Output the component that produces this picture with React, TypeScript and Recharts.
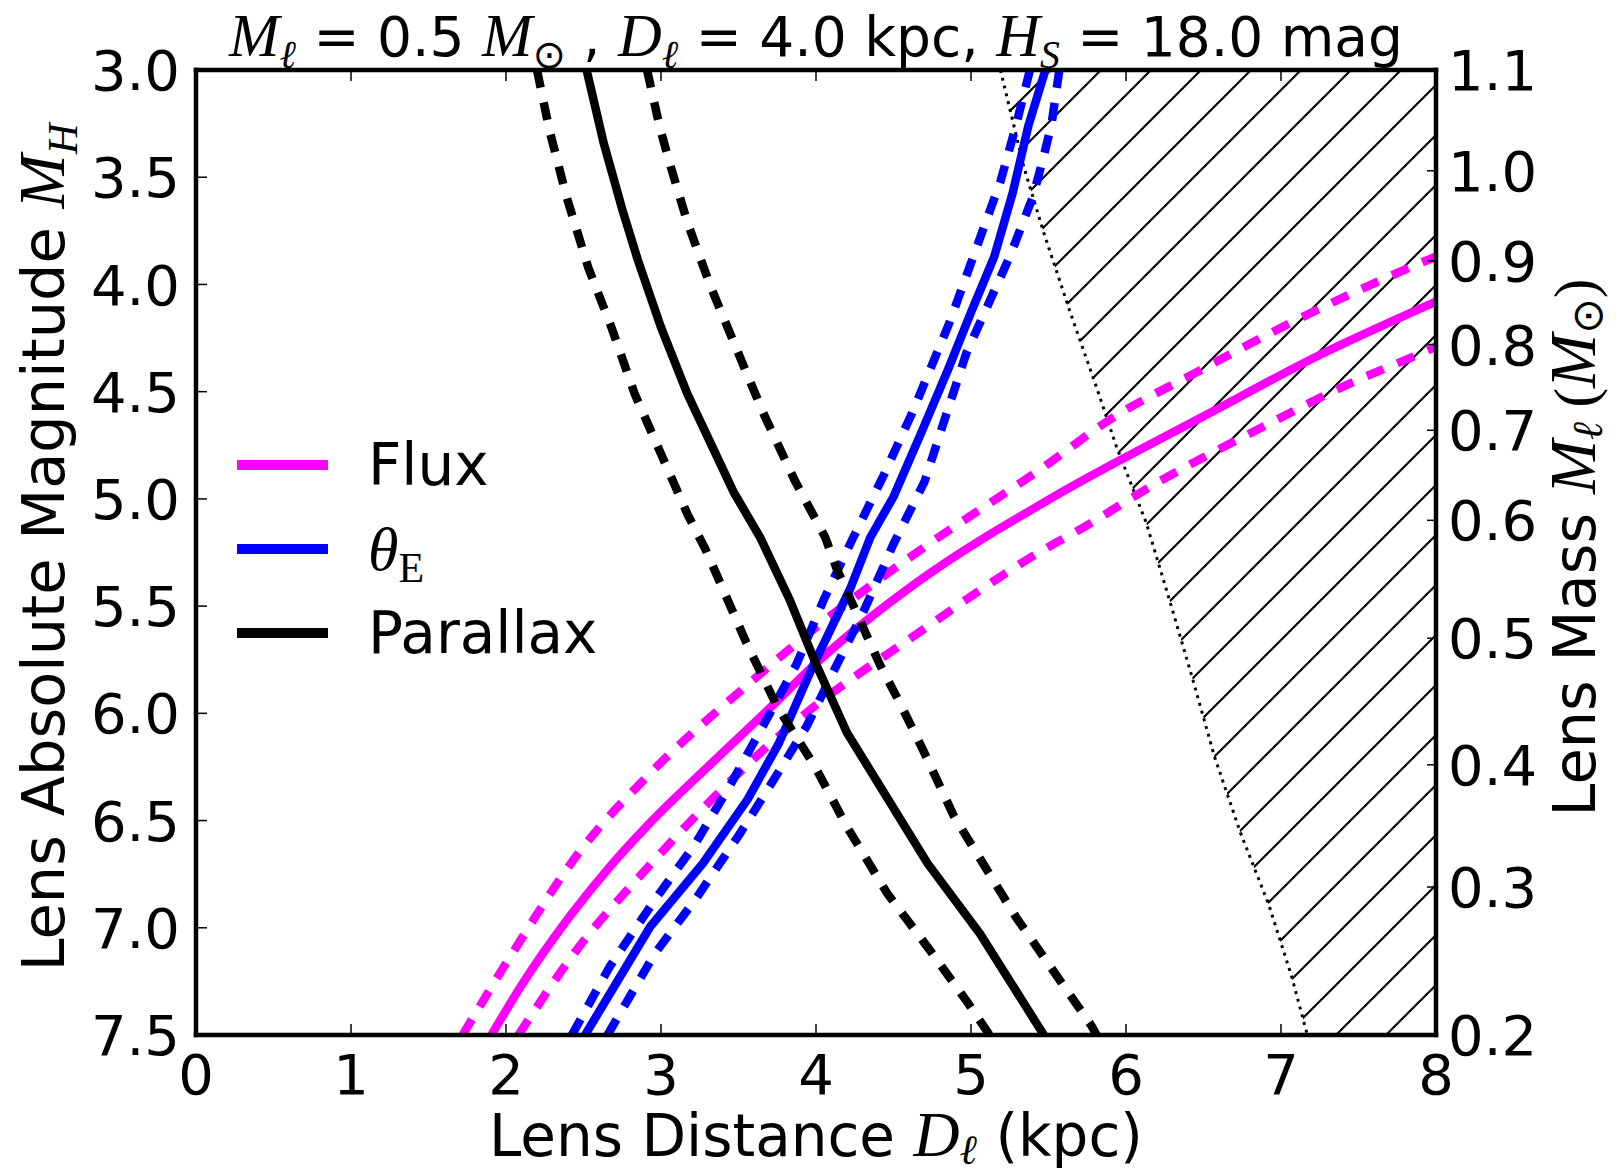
import React from "react";
import { ComposedChart, Line, Area, XAxis, YAxis, Legend } from "recharts";

// [lens distance (kpc), lens absolute magnitude M_H]
type Pt = [number, number];

const distTicks = [0, 1, 2, 3, 4, 5, 6, 7, 8];
const magTicks = [3.0, 3.5, 4.0, 4.5, 5.0, 5.5, 6.0, 6.5, 7.0, 7.5];
// right axis: lens mass ticks placed at the matching M_H
const massTickMags = [3.0, 3.47, 3.89, 4.28, 4.68, 5.1, 5.65, 6.24, 6.81, 7.5];
const massTickLabels = ["1.1", "1.0", "0.9", "0.8", "0.7", "0.6", "0.5", "0.4", "0.3", "0.2"];

const fluxMid: Pt[] = [
  [1.906, 7.5], [2.094, 7.275], [2.41, 6.948], [2.67, 6.715], [2.93, 6.51], [3.33, 6.23],
  [3.71, 5.97], [3.98, 5.78], [4.65, 5.39], [5.51, 5.0], [6.54, 4.6], [7.23, 4.336], [8.0, 4.08],
];
const fluxBright: Pt[] = [
  [1.72, 7.5], [2.04, 7.12], [2.47, 6.65], [2.93, 6.28], [3.57, 5.86], [4.05, 5.57], [4.65, 5.25],
  [5.51, 4.83], [5.875, 4.64], [6.48, 4.4], [7.06, 4.18], [7.9, 3.9], [8.0, 3.87],
];
const fluxFaint: Pt[] = [
  [2.08, 7.5], [2.47, 7.09], [2.9, 6.73], [3.33, 6.4], [3.85, 6.05], [4.65, 5.63], [5.51, 5.22],
  [5.66, 5.16], [6.26, 4.9], [6.84, 4.68], [7.45, 4.46], [7.875, 4.33], [8.0, 4.29],
];

const thetaMid: Pt[] = [
  [2.51, 7.5], [2.93, 6.995], [3.27, 6.7], [3.56, 6.4], [3.76, 6.14], [3.98, 5.78], [4.22, 5.42],
  [4.35, 5.18], [4.5, 4.99], [4.68, 4.69], [4.85, 4.4], [5.0, 4.13], [5.15, 3.87], [5.27, 3.57],
  [5.37, 3.26], [5.48, 3.0],
];
const thetaNear: Pt[] = [
  [2.425, 7.5], [2.67, 7.18], [2.96, 6.87], [3.22, 6.61], [3.45, 6.33], [3.68, 6.03], [3.875, 5.77],
  [4.05, 5.47], [4.24, 5.18], [4.43, 4.9], [4.62, 4.6], [4.86, 4.18], [5.05, 3.8], [5.19, 3.52],
  [5.29, 3.26], [5.38, 3.0],
];
const thetaFar: Pt[] = [
  [2.655, 7.5], [2.96, 7.12], [3.22, 6.87], [3.51, 6.56], [3.71, 6.33], [3.94, 6.06], [4.13, 5.78],
  [4.31, 5.52], [4.5, 5.21], [4.7, 4.92], [4.83, 4.63], [4.97, 4.32], [5.25, 3.87], [5.4, 3.59],
  [5.47, 3.4], [5.52, 3.25], [5.57, 3.0],
];

const plxMid: Pt[] = [
  [2.52, 3.0], [2.63, 3.34], [2.75, 3.65], [2.85, 3.885], [3.0, 4.2], [3.17, 4.51], [3.32, 4.74],
  [3.47, 4.97], [3.64, 5.18], [3.83, 5.47], [4.0, 5.77], [4.2, 6.09], [4.43, 6.36], [4.72, 6.7],
  [5.06, 7.03], [5.47, 7.5],
];
const plxNear: Pt[] = [
  [2.2, 3.0], [2.28, 3.28], [2.39, 3.59], [2.53, 3.92], [2.68, 4.2], [2.83, 4.51], [3.0, 4.79],
  [3.17, 5.07], [3.29, 5.24], [3.55, 5.67], [3.75, 5.97], [3.995, 6.25], [4.2, 6.53], [4.46, 6.84],
  [4.72, 7.09], [4.97, 7.34], [5.12, 7.5],
];
const plxFar: Pt[] = [
  [2.91, 3.0], [2.99, 3.26], [3.05, 3.42], [3.17, 3.71], [3.32, 4.01], [3.49, 4.305], [3.66, 4.6],
  [3.86, 4.91], [4.06, 5.18], [4.13, 5.32], [4.41, 5.77], [4.54, 5.95], [4.69, 6.17], [4.89, 6.48],
  [5.29, 6.95], [5.78, 7.46], [5.81, 7.5],
];

// edge of the excluded (hatched) region
const excludedEdge: Pt[] = [
  [5.19, 3.0], [5.34, 3.45], [5.47, 3.76], [5.64, 4.13], [5.81, 4.48], [5.94, 4.76], [6.13, 5.11],
  [6.28, 5.47], [6.43, 5.84], [6.57, 6.2], [6.74, 6.56], [6.92, 6.89], [7.07, 7.23], [7.17, 7.5],
];
const excludedCorner: Pt = [8.0, 7.5];

const legendOrder = ["Flux", "θE", "Parallax"];

const rows = (pts: Pt[]) => pts.map(([d, m]) => ({ d, m }));
const hatchRows = [...excludedEdge, excludedCorner].map(([d, m]) => ({ d, band: [magTicks[0], m] }));

const SANS = '"DejaVu Sans", sans-serif';
const SERIF = '"Liberation Serif", "DejaVu Serif", serif';
const PLOT = { left: 196, right: 1436, top: 70, bottom: 1035 };
const frame = { stroke: "#000", strokeWidth: 4.5, strokeLinecap: "square" as const };
const TICK_FONT = 56;
const LABEL_FONT = 59;

type Seg = { t: string; it?: boolean; sub?: boolean; serif?: boolean };

// text runs with italic math letters and lowered subscripts
function Runs({ segs, size, drop = 0.22 }: { segs: Seg[]; size: number; drop?: number }) {
  let shift = 0;
  return (
    <>
      {segs.map((s, i) => {
        const target = s.sub ? size * drop : 0;
        const dy = target - shift;
        shift = target;
        return (
          <tspan
            key={i}
            dy={dy}
            fontFamily={s.it || s.serif ? SERIF : SANS}
            fontStyle={s.it ? "italic" : "normal"}
            fontSize={s.sub ? size * 0.72 : s.it ? size * 1.1 : size}
          >
            {s.t}
          </tspan>
        );
      })}
    </>
  );
}

const LeftTick = (p: any) => {
  const ax = p.x + 16;
  return (
    <g>
      <line x1={ax} x2={ax + 11} y1={p.y} y2={p.y} stroke="#000" strokeWidth={1.5} />
      <text x={p.x} y={p.y} dy="0.36em" textAnchor="end" fontFamily={SANS} fontSize={TICK_FONT} fill="#000">
        {Number(p.payload.value).toFixed(1)}
      </text>
    </g>
  );
};

const RightTick = (p: any) => {
  const ax = p.x - 12;
  const label = massTickLabels[massTickMags.indexOf(p.payload.value)];
  return (
    <g>
      <line x1={ax} x2={ax - 9} y1={p.y} y2={p.y} stroke="#000" strokeWidth={1.5} />
      <text x={p.x} y={p.y} dy="0.36em" textAnchor="start" fontFamily={SANS} fontSize={TICK_FONT} fill="#000">
        {label}
      </text>
    </g>
  );
};

const BottomTick = (p: any) => {
  const ay = p.y - 19;
  return (
    <g>
      <line x1={p.x} x2={p.x} y1={ay} y2={ay - 11} stroke="#000" strokeWidth={1.5} />
      <text x={p.x} y={p.y} dy="0.71em" textAnchor="middle" fontFamily={SANS} fontSize={TICK_FONT} fill="#000">
        {p.payload.value}
      </text>
    </g>
  );
};

const TopTick = (p: any) => (
  <line x1={p.x} x2={p.x} y1={PLOT.top} y2={PLOT.top + 11} stroke="#000" strokeWidth={1.5} />
);

const TitleLabel = () => (
  <text x={(PLOT.left + PLOT.right) / 2} y={PLOT.top - 14} textAnchor="middle" fill="#000" style={{ whiteSpace: "pre" }}>
    <Runs
      size={55}
      segs={[
        { t: "M", it: true }, { t: "ℓ", it: true, sub: true }, { t: " = 0.5 " },
        { t: "M", it: true }, { t: "⊙", sub: true }, { t: " , " },
        { t: "D", it: true }, { t: "ℓ", it: true, sub: true }, { t: " = 4.0 kpc, " },
        { t: "H", it: true }, { t: "S", it: true, sub: true }, { t: " = 18.0 mag" },
      ]}
    />
  </text>
);

const XTitle = () => (
  <text x={(PLOT.left + PLOT.right) / 2} y={PLOT.bottom + 121} textAnchor="middle" fill="#000" style={{ whiteSpace: "pre" }}>
    <Runs
      size={58}
      drop={0.14}
      segs={[{ t: "Lens Distance " }, { t: "D", it: true }, { t: "ℓ", it: true, sub: true }, { t: " (kpc)" }]}
    />
  </text>
);

const YTitle = () => {
  const cx = 64;
  const cy = (PLOT.top + PLOT.bottom) / 2 - 5;
  return (
    <text x={cx} y={cy} transform={`rotate(-90 ${cx} ${cy})`} textAnchor="middle" fill="#000" style={{ whiteSpace: "pre" }}>
      <Runs size={LABEL_FONT} segs={[{ t: "Lens Absolute Magnitude " }, { t: "M", it: true }, { t: "H", it: true, sub: true }]} />
    </text>
  );
};

const MassTitle = () => {
  const cx = 1595;
  const cy = (PLOT.top + PLOT.bottom) / 2 - 5;
  return (
    <text x={cx} y={cy} transform={`rotate(-90 ${cx} ${cy})`} textAnchor="middle" fill="#000" style={{ whiteSpace: "pre" }}>
      <Runs
        size={LABEL_FONT}
        drop={0.12}
        segs={[
          { t: "Lens Mass " }, { t: "M", it: true }, { t: "ℓ", it: true, sub: true },
          { t: " (", serif: true }, { t: "M", it: true }, { t: "⊙", sub: true }, { t: ")", serif: true },
        ]}
      />
    </text>
  );
};

const legendText: Record<string, React.ReactNode> = {
  Flux: "Flux",
  θE: (
    <>
      <span style={{ fontFamily: SERIF, fontStyle: "italic", fontSize: 62 }}>θ</span>
      <span style={{ fontFamily: SERIF, fontSize: 42, position: "relative", top: 12 }}>E</span>
    </>
  ),
  Parallax: "Parallax",
};

const LegendBox = ({ payload }: any) => {
  const items = legendOrder
    .map((name) => (payload ?? []).find((p: any) => p.value === name))
    .filter(Boolean);
  return (
    <div style={{ fontFamily: SANS, fontSize: 58, color: "#000" }}>
      {items.map((p: any) => (
        <div key={p.value} style={{ display: "flex", alignItems: "center", height: 84 }}>
          <svg width={91} height={10} style={{ display: "block" }}>
            <rect width={91} height={10} fill={p.color} />
          </svg>
          <span style={{ marginLeft: 40, lineHeight: 1, whiteSpace: "nowrap" }}>{legendText[p.value]}</span>
        </div>
      ))}
    </div>
  );
};

const solid = { strokeWidth: 8.5, dot: false, activeDot: false, isAnimationActive: false, yAxisId: "mag" } as const;
const dashed = { ...solid, strokeDasharray: "18 15", legendType: "none" } as const;

export default function App() {
  return (
    <div style={{ position: "absolute", left: 0, top: 0, width: 1618, height: 1173, background: "#fff" }}>
      <ComposedChart width={1618} height={1173} margin={{ top: PLOT.top - 1, right: 0, bottom: 0, left: 0 }}>
        <defs>
          <pattern id="hatch" patternUnits="userSpaceOnUse" width={50} height={50} patternTransform="translate(21 0)">
            <path d="M0,50 L50,0 M-10,10 L10,-10 M40,60 L60,40" stroke="#000" strokeWidth={2.2} />
          </pattern>
        </defs>
        <XAxis
          type="number" dataKey="d" domain={[0, 8]} ticks={distTicks} interval={0} allowDataOverflow
          height={1173 - PLOT.bottom} tickSize={0} tickMargin={19} tick={BottomTick} axisLine={frame}
          label={<XTitle />}
        />
        <XAxis
          xAxisId="top" orientation="top" type="number" dataKey="d" domain={[0, 8]} ticks={distTicks} interval={0}
          allowDataOverflow height={1} tickSize={0} tickMargin={0} tick={TopTick} axisLine={frame} label={<TitleLabel />}
        />
        <YAxis
          yAxisId="mag" type="number" domain={[3, 7.5]} reversed ticks={magTicks} interval={0} allowDataOverflow
          width={PLOT.left} tickSize={0} tickMargin={16} tick={LeftTick} axisLine={frame} label={<YTitle />}
        />
        <YAxis
          yAxisId="mass" orientation="right" type="number" domain={[3, 7.5]} reversed ticks={massTickMags} interval={0}
          allowDataOverflow width={1618 - PLOT.right} tickSize={0} tickMargin={12} tick={RightTick} axisLine={frame}
          label={<MassTitle />}
        />
        <Legend
          layout="vertical" align="center" verticalAlign="middle" content={<LegendBox />}
          wrapperStyle={{ left: 237, top: 423, width: 420, height: 252 }}
        />

        <Area
          data={hatchRows} dataKey="band" yAxisId="mag" type="linear" stroke="none" fill="url(#hatch)"
          fillOpacity={1} isAnimationActive={false} legendType="none"
        />
        <Line
          data={rows(excludedEdge)} dataKey="m" type="linear" stroke="#000" strokeWidth={3} strokeDasharray="3 5"
          dot={false} activeDot={false} isAnimationActive={false} legendType="none" yAxisId="mag"
        />

        <Line data={rows(fluxMid)} dataKey="m" name="Flux" type="monotone" stroke="#ff00ff" {...solid} />
        <Line data={rows(fluxBright)} dataKey="m" name="Flux upper" type="monotone" stroke="#ff00ff" {...dashed} />
        <Line data={rows(fluxFaint)} dataKey="m" name="Flux lower" type="monotone" stroke="#ff00ff" {...dashed} />

        <Line data={rows(thetaMid)} dataKey="m" name="θE" type="linear" stroke="#0000ff" {...solid} />
        <Line data={rows(thetaNear)} dataKey="m" name="θE near" type="linear" stroke="#0000ff" {...dashed} />
        <Line data={rows(thetaFar)} dataKey="m" name="θE far" type="linear" stroke="#0000ff" {...dashed} />

        <Line data={rows(plxMid)} dataKey="m" name="Parallax" type="linear" stroke="#000000" {...solid} />
        <Line data={rows(plxNear)} dataKey="m" name="Parallax near" type="linear" stroke="#000000" {...dashed} />
        <Line data={rows(plxFar)} dataKey="m" name="Parallax far" type="linear" stroke="#000000" {...dashed} />
      </ComposedChart>
    </div>
  );
}
